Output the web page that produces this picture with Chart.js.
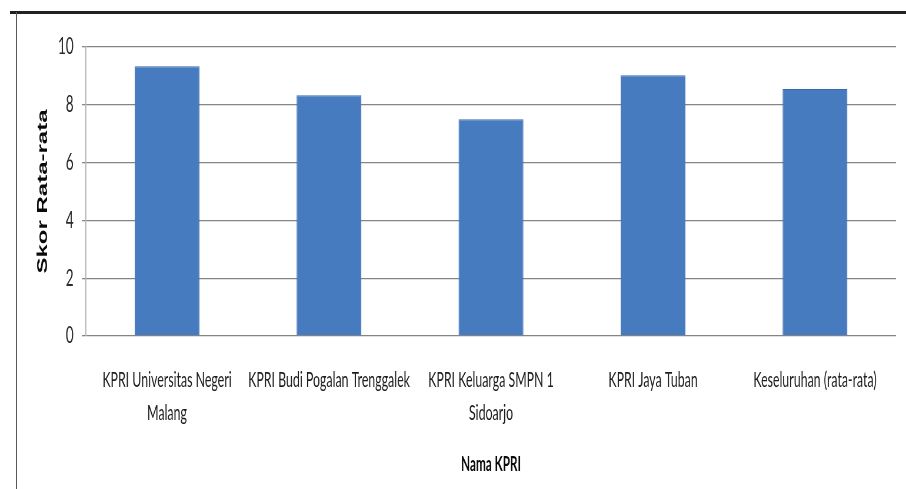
<!DOCTYPE html>
<html>
<head>
<meta charset="utf-8">
<script src="https://cdn.jsdelivr.net/npm/chart.js@4.4.1/dist/chart.umd.min.js"></script>
<style>
  html, body { margin: 0; padding: 0; background: #fff; overflow: hidden; }
  #page { position: relative; width: 906px; height: 489px; overflow: hidden; }
  /* the scanned figure is squeezed horizontally, so the chart is drawn wide and squeezed back */
  #wrap { position: absolute; left: 0; top: 0; width: 1540px; height: 489px; transform: scaleX(0.58831); transform-origin: 0 0; }
  #topline { position: absolute; left: 10px; top: 11px; width: 896px; height: 3px; background: #222; }
  #leftline { position: absolute; left: 16px; top: 12px; width: 1px; height: 477px; background: #5a5a5a; }
</style>
</head>
<body>
<div id="page">
  <div id="wrap"><canvas id="chart" width="1540" height="489"></canvas></div>
  <div id="topline"></div>
  <div id="leftline"></div>
</div>
<script>
// categories (split onto two lines like the original)
const namaKPRI = [
    ["KPRI Universitas Negeri", "Malang"],
    "KPRI Budi Pogalan Trenggalek",
    ["KPRI Keluarga SMPN 1", "Sidoarjo"],
    "KPRI Jaya Tuban",
    "Keseluruhan (rata-rata)"
];
// average scores
const skorRataRata = [9.33, 8.33, 7.5, 9.02, 8.55];
const yTicks = [0, 2, 4, 6, 8, 10];

const sx = 1540 / 906; // horizontal stretch used for the canvas

const ctx = document.getElementById('chart').getContext('2d');

new Chart(ctx, {
    type: 'bar',
    data: {
        labels: namaKPRI,
        datasets: [{
            label: 'Skor Rata-rata',
            data: skorRataRata,
            backgroundColor: '#477bbf',
            borderColor: '#3a6aa9',
            borderWidth: 1,
            barPercentage: 0.4,
            categoryPercentage: 1.0
        }]
    },
    options: {
        responsive: false,
        animation: false,
        layout: {
            padding: { left: 40, right: 10 * sx, top: 47, bottom: 0 }
        },
        plugins: {
            legend: { display: false },
            tooltip: { enabled: false }
        },
        scales: {
            x: {
                grid: { display: false, drawTicks: false },
                border: { display: false },
                ticks: {
                    autoSkip: false,
                    maxRotation: 0,
                    minRotation: 0,
                    padding: 28,
                    color: '#1e1e1e',
                    font: { family: 'Lato', size: 21, lineHeight: 1.57 }
                },
                title: {
                    display: true,
                    text: 'Nama KPRI',
                    color: '#0a0a0a',
                    padding: { top: 0, bottom: 12 },
                    font: { family: 'Lato', size: 20, weight: 'bold' }
                },
                afterFit: function(scale) { scale.height = 489 - 336; }
            },
            y: {
                min: 0,
                max: 10,
                afterBuildTicks: function(scale) {
                    scale.ticks = yTicks.map(v => ({ value: v }));
                },
                grid: {
                    color: '#858585',
                    lineWidth: 1.3,
                    drawTicks: true,
                    tickLength: 7
                },
                border: { display: true, color: '#b0b0b0', width: 1.7 },
                ticks: {
                    padding: 14,
                    color: '#2a2a2a',
                    font: { family: 'Lato', size: 23 }
                },
                title: {
                    display: true,
                    text: 'Skor Rata-rata',
                    color: '#0a0a0a',
                    padding: { top: 19, bottom: 0 },
                    font: { family: 'Liberation Sans', size: 24, weight: 'bold' }
                },
                afterFit: function(scale) { scale.width = 86 * sx - 40; }
            }
        }
    }
});
</script>
</body>
</html>
